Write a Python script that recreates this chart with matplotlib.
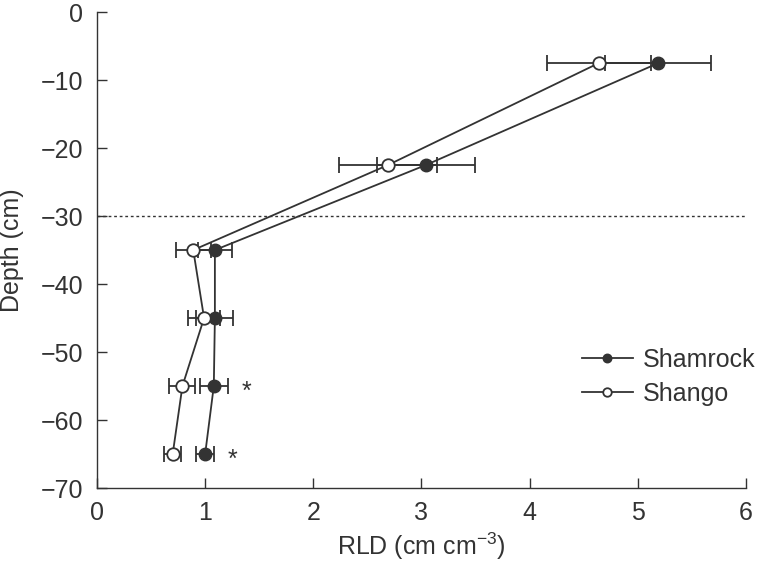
import matplotlib.pyplot as plt
from matplotlib.transforms import offset_copy

plt.rcParams['font.family'] = ['Liberation Sans', 'DejaVu Sans']

# Depth of each sampled layer (cm)
depth = [-7.5, -22.5, -35, -45, -55, -65]

# Root length density (cm cm^-3) and standard errors
shamrock = [5.19, 3.04, 1.09, 1.09, 1.08, 1.00]
shamrock_err = [0.49, 0.45, 0.16, 0.17, 0.13, 0.08]
shango = [4.64, 2.69, 0.89, 0.99, 0.79, 0.70]
shango_err = [0.48, 0.45, 0.16, 0.15, 0.12, 0.08]

# layers marked as significantly different
sig_depth = [-55, -65]
sig_x = [1.38, 1.25]

col = '#333333'

fig = plt.figure(figsize=(7.6, 5.68), dpi=100)
ax = fig.add_axes([0.1276, 0.1408, 0.854, 0.838])

ax.errorbar(shamrock, depth, xerr=shamrock_err, fmt='o-', color=col, mfc=col, mec=col,
            ms=9, lw=1.3, elinewidth=1.3, capsize=6, capthick=1.3, label='Shamrock', zorder=3)
ax.errorbar(shango, depth, xerr=shango_err, fmt='o-', color=col, mfc='white', mec=col,
            ms=9, lw=1.3, elinewidth=1.3, capsize=6, capthick=1.3, mew=1.3, label='Shango', zorder=4)

# asterisks, shifted down so the glyph is centred on the row
star_tr = offset_copy(ax.transData, fig=fig, x=0, y=-13, units='dots')
for xs, ys in zip(sig_x, sig_depth):
    ax.text(xs, ys, '*', fontsize=18, ha='center', va='baseline', color=col, transform=star_tr)

ax.axhline(-30, color=col, ls=(0, (2, 2)), lw=1)

ax.set_xlim(0, 6)
ax.set_ylim(-70, 0)
ax.set_xticks(range(0, 7))
ax.set_yticks(range(-70, 1, 10))
ax.set_yticklabels(['\u2212%d' % -v if v < 0 else '0' for v in range(-70, 1, 10)])
ax.tick_params(direction='in', length=7, width=1, color=col, labelcolor=col, labelsize=18)
ax.tick_params(axis='x', pad=9)
ax.tick_params(axis='y', pad=10)
for s in ['top', 'right']:
    ax.spines[s].set_visible(False)
for s in ['left', 'bottom']:
    ax.spines[s].set_color(col)
    ax.spines[s].set_linewidth(1)

ax.set_xlabel('RLD (cm cm$^{\\mathregular{-3}}$)', fontsize=18, color=col)
ax.set_ylabel('Depth (cm)', fontsize=18, color=col)
ax.xaxis.set_label_coords(0.5, -0.09)
ax.yaxis.set_label_coords(-0.112, 0.5)

h, l = ax.get_legend_handles_labels()
h = [x[0] for x in h]
leg = ax.legend(h, l, loc='upper left', bbox_to_anchor=(0.712, 0.342), frameon=False,
                fontsize=18, handlelength=2.04, handletextpad=0.4, labelspacing=0.42,
                markerscale=0.68, labelcolor=col)

fig.savefig('out.png', dpi=100)
